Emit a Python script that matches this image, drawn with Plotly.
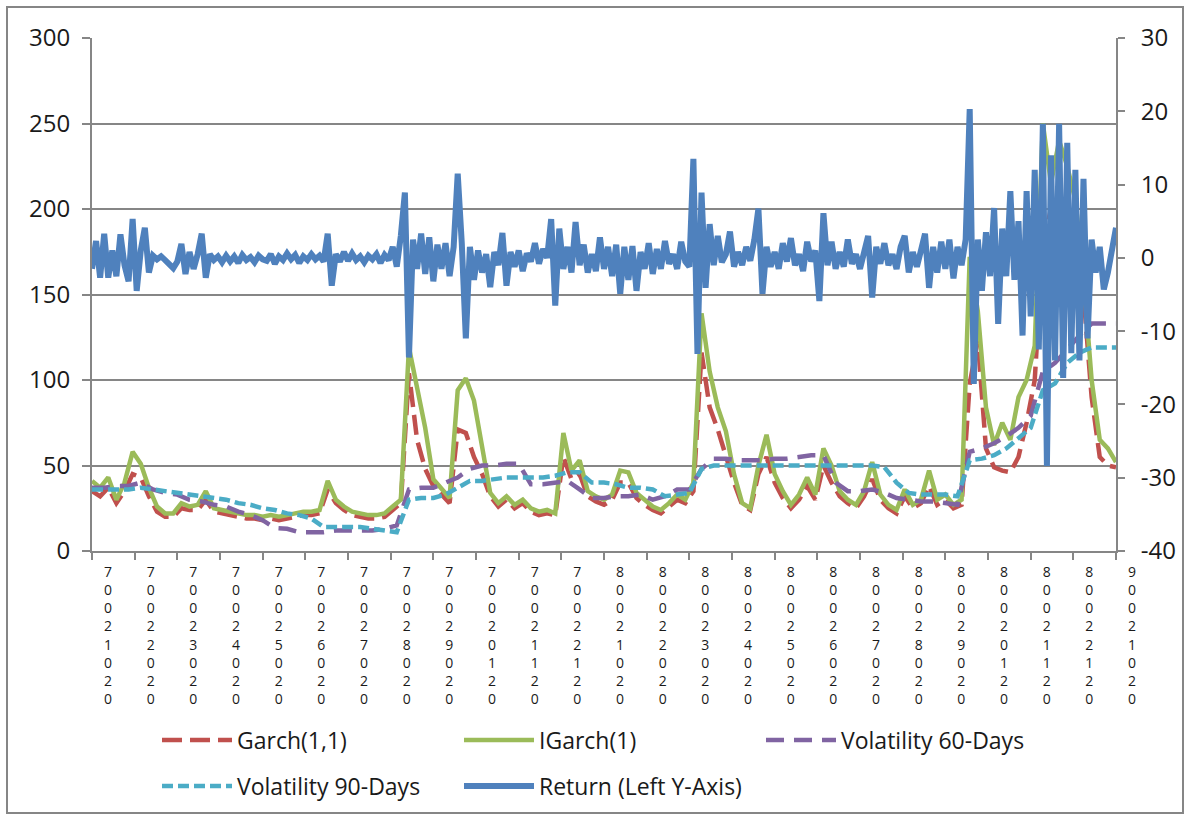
import plotly.graph_objects as go

# month labels on the category axis (Excel shows them as stacked characters)
DATE_LABELS = [
    "02012007", "02022007", "02032007", "02042007", "02052007", "02062007",
    "02072007", "02082007", "02092007", "02102007", "02112007", "02122007",
    "02012008", "02022008", "02032008", "02042008", "02052008", "02062008",
    "02072008", "02082008", "02092008", "02102008", "02112008", "02122008",
    "02012009",
]
DAYS_PER_MONTH = 21

# daily return (%), right axis, one value every 2 trading days
RET_STEP = 2
RETURN = [
    -1.5, 2.3, -2.7, 3.3, -2.7, 1.0, -2.5, 3.2, -1.0, -3.2, 5.3, -4.5, 1.0, 4.1, -2.0,
    0.3, -0.2, 0.2, -0.3, -0.8, -1.4, -0.5,
    1.9, -2.2, 0.8, -1.5, 0.5, 3.3, -2.7, 0.5, -0.3, 0.2, -0.6, 0.3, -0.5, 0.2, -0.7,
    0.4, -0.3, 0.1, -0.6, 0.3, -0.2,
    -0.4, 0.5, -0.8, 0.2, -0.3, 0.6, -0.2, 0.4, -0.7, 0.2, -0.3, 0.5, -0.2, 0.3, -0.5,
    3.3, -3.8, 0.5, -0.5, 0.8, -0.4, 0.6, -0.3, 0.2, -0.6, 0.3, -0.2, 0.5, -0.7, 0.4,
    -0.3, 1.5, -1.2, 3.0, 8.9, -13.6, 2.5, -1.5, 3.3, -2.2, 2.8, -3.2, 1.8, -1.5, 2.0,
    -2.5, 1.5, 11.5, 2.0, -11.0, 1.5, -3.0, 1.0, -2.0, 0.5, -4.0, 0.8, -1.0,
    3.4, -3.8, 0.8, -1.2, 1.0, -1.8, 0.6, -0.5, 2.0, -0.8, 1.2, 0.0, 5.3, -6.5, 4.0,
    -1.5, 1.5, -2.0, 4.9, -1.0, 1.8, -2.0, 0.5, -1.8, 2.8, -1.5, 1.5, -2.5, 1.8, -4.9,
    1.5, -3.0, 1.6, -4.5, 0.8, -1.5, 2.0, -2.2, 1.2, -1.5, 2.3, -0.8, 0.5, -1.5, 2.2,
    -0.5, -1.2, 13.5, -13.1, 8.9,
    -4.1, 4.6, -1.0, 3.0, -0.6, 0.5, 3.6, -1.2, 0.8, -1.0, 1.5, -0.4, 2.5, 6.7, -4.9,
    1.5, -1.2, 0.8, -1.5, 2.0, -0.5, 2.7, -1.0, 0.5, -1.8, 2.2, -0.5, 1.0, -5.9, 6.1,
    -1.0, 2.2, -1.5, 0.8, -1.2, 2.5, -0.8, 0.5, -1.5, 1.2, 3.0, -5.4, 1.5, -0.8, 2.0,
    -1.0, 0.5, -1.5, 1.5, 3.0,
    -2.0, 0.8, -1.2, 1.0, 3.3, -4.1, 1.5, -2.0, 2.2, -1.5, 2.5, -2.8, 1.5, -1.0, 2.5,
    20.3, -17.2, 2.5, -4.5, 3.5, -2.5, 6.8, -9.0, 4.0, -2.5, 9.1, -3.0, 5.0, -10.6, 9.1,
    -8.0, 12.0, -12.5, 18.3, -28.4, 14.0, -14.0, 18.3, -16.4, 15.7, -13.0, 12.0, -14.0,
    10.8, -11.0, 2.5, -2.0, 1.5, -4.3, -2.0, 1.5, 4.1,
]

# conditional volatility, left axis, one value every 4 trading days
GARCH_STEP = 4
IGARCH = [
    41, 37, 43, 30, 40, 58, 51, 37, 26, 22,
    22, 28, 26, 27, 35, 25, 24, 23, 22, 21,
    21, 20, 21, 20, 21, 22, 23, 23, 24, 41,
    30, 26, 23, 22, 21, 21, 22, 26, 30, 119,
    94, 72, 42, 36, 31, 94, 101, 88, 60, 34,
    28, 32, 27, 30, 25, 23, 24, 22, 69, 47,
    53, 35, 32, 30, 33, 47, 46, 34, 30, 26,
    24, 28, 33, 30, 40, 139, 105, 84, 70, 45,
    28, 25, 50, 68, 45, 35, 27, 33, 43, 33,
    60, 50, 35, 30, 27, 35, 52, 33, 27, 24,
    36, 27, 30, 47, 30, 33, 27, 30, 172, 140,
    84, 62, 75, 65, 90, 100, 120, 250, 215, 240,
    225, 205, 160, 100, 65, 60, 52,
]
GARCH = [
    35, 32, 37, 28, 35, 45, 43, 32, 23, 20,
    20, 25, 24, 24, 30, 23, 22, 21, 20, 19,
    19, 18, 19, 18, 19, 20, 21, 21, 22, 36,
    28, 24, 21, 20, 19, 19, 20, 24, 28, 104,
    65, 48, 38, 33, 28, 71, 69, 55, 45, 32,
    26, 30, 25, 28, 23, 21, 22, 21, 55, 42,
    45, 32, 29, 27, 30, 40, 40, 31, 27, 24,
    22, 26, 30, 28, 35, 116, 84, 71, 55, 40,
    27, 24, 45, 55, 40, 31, 25, 30, 38, 30,
    50, 40, 32, 28, 25, 32, 42, 30, 25, 22,
    32, 25, 28, 38, 27, 30, 25, 27, 98, 123,
    60, 49, 47, 46, 55, 75, 100, 180, 200, 190,
    170, 160, 150, 90, 55, 50, 49,
]

# historical volatility, left axis, one value every 6 trading days
VOL_STEP = 6
VOL60 = [
    37, 37, 38, 38, 40, 36, 34, 33, 30, 29,
    27, 26, 23, 21, 18, 13.5, 13, 11, 11, 11,
    12, 12, 12, 12, 13, 15, 36, 37, 37, 40,
    43, 48, 50, 50, 51, 51, 39, 39, 40, 41,
    36, 31, 31, 32, 32, 33, 30, 32, 36, 36,
    48, 54, 54, 53, 53, 53, 54, 54, 55, 56,
    56, 40, 35, 35, 36, 34, 31, 30, 29, 29,
    28, 27, 58, 60, 63, 67, 72, 79, 105, 110,
    118, 126, 133, 133, 133,
]
VOL90 = [
    36, 36, 36, 36, 37, 36, 35, 34, 33, 32,
    31, 30, 28, 27, 25, 24, 22, 21, 19, 14,
    14, 14, 14, 13, 12, 11, 30, 31, 31, 33,
    37, 41, 41, 42, 43, 43, 43, 43, 44, 46,
    46, 40, 40, 39, 37, 37, 36, 32, 33, 34,
    48, 50, 50, 50, 50, 50, 50, 50, 50, 50,
    50, 50, 50, 50, 50, 49, 40, 34, 33, 33,
    33, 32, 53, 54, 56, 60, 66, 72, 94, 98,
    110, 116, 119, 119, 119,
]
RIGHT_TICKS = [-40, -30, -20, -10, 0, 10, 20, 30]

FONT = "Open Sans, Lato, sans-serif"
GRID = "#868686"
TEXT = "#1a1a1a"

W, H = 1190, 819
ML, MR, MT, MB = 92, 74, 38, 268


def px_x(px):
    return (px - ML) / (W - ML - MR)


def px_y(py):
    return (H - MB - py) / (H - MT - MB)


def days(step, values):
    return [step * i for i in range(len(values))]


fig = go.Figure()
fig.add_trace(go.Scatter(x=days(GARCH_STEP, GARCH), y=GARCH, name="Garch(1,1)",
                         mode="lines", line=dict(color="#C0504D", width=4.5, dash="20px,8px")))
fig.add_trace(go.Scatter(x=days(GARCH_STEP, IGARCH), y=IGARCH, name="IGarch(1)",
                         mode="lines", line=dict(color="#9BBB59", width=4.5)))
fig.add_trace(go.Scatter(x=days(VOL_STEP, VOL60), y=VOL60, name="Volatility 60-Days",
                         mode="lines", line=dict(color="#8064A2", width=4.5, dash="18px,10px")))
fig.add_trace(go.Scatter(x=days(VOL_STEP, VOL90), y=VOL90, name="Volatility 90-Days",
                         mode="lines", line=dict(color="#4BACC6", width=4.5, dash="11px,5px"),
                         legend="legend2"))
fig.add_trace(go.Scatter(x=days(RET_STEP, RETURN), y=RETURN, name="Return (Left Y-Axis)",
                         mode="lines", line=dict(color="#4F81BD", width=6), yaxis="y2",
                         legend="legend2"))

tick_days = [DAYS_PER_MONTH * i for i in range(len(DATE_LABELS))]
tick_text = ["<br>".join(reversed(lab)) for lab in DATE_LABELS]

legend_style = dict(orientation="h", xanchor="left", yanchor="middle",
                    x=px_x(157), font=dict(family=FONT, size=23, color=TEXT),
                    itemwidth=70, entrywidth=217, entrywidthmode="pixels",
                    bgcolor="rgba(0,0,0,0)")

fig.update_layout(
    width=W, height=H,
    margin=dict(l=ML, r=MR, t=MT, b=MB, autoexpand=False),
    template="none",
    paper_bgcolor="white", plot_bgcolor="white",
    font=dict(family=FONT, color=TEXT),
    showlegend=True,
    legend=dict(legend_style, y=px_y(740)),
    legend2=dict(legend_style, y=px_y(786)),
    xaxis=dict(range=[0, tick_days[-1]], tickmode="array", tickvals=tick_days,
               ticktext=tick_text, tickangle=0, ticklabelshift=16,
               tickfont=dict(family=FONT, size=14, color=TEXT),
               ticks="outside", ticklen=7, tickwidth=2, tickcolor=GRID,
               showline=True, linecolor=GRID, linewidth=2,
               showgrid=False, zeroline=False),
    yaxis=dict(range=[0, 300], dtick=50, tick0=0,
               tickfont=dict(family=FONT, size=24, color=TEXT),
               ticks="outside", ticklen=8, tickwidth=2, tickcolor=GRID,
               ticklabelstandoff=7,
               showline=True, linecolor=GRID, linewidth=2,
               showgrid=True, gridcolor=GRID, gridwidth=2, zeroline=False),
    yaxis2=dict(range=[-40, 30], tickmode="array", tickvals=RIGHT_TICKS,
                ticktext=[str(v) for v in RIGHT_TICKS], overlaying="y", side="right",
                tickfont=dict(family=FONT, size=24, color=TEXT),
                ticks="outside", ticklen=7, tickwidth=2, tickcolor=GRID,
                ticklabelstandoff=11,
                showline=True, linecolor=GRID, linewidth=2,
                showgrid=False, zeroline=False),
)

# chart-area frame
fig.add_shape(type="rect", xref="paper", yref="paper",
              x0=px_x(7), x1=px_x(1183), y0=px_y(813), y1=px_y(7),
              line=dict(color=GRID, width=2), layer="below")

fig.write_html("out.html", config={"displayModeBar": False},
               post_script="document.body.style.margin='0px';")
